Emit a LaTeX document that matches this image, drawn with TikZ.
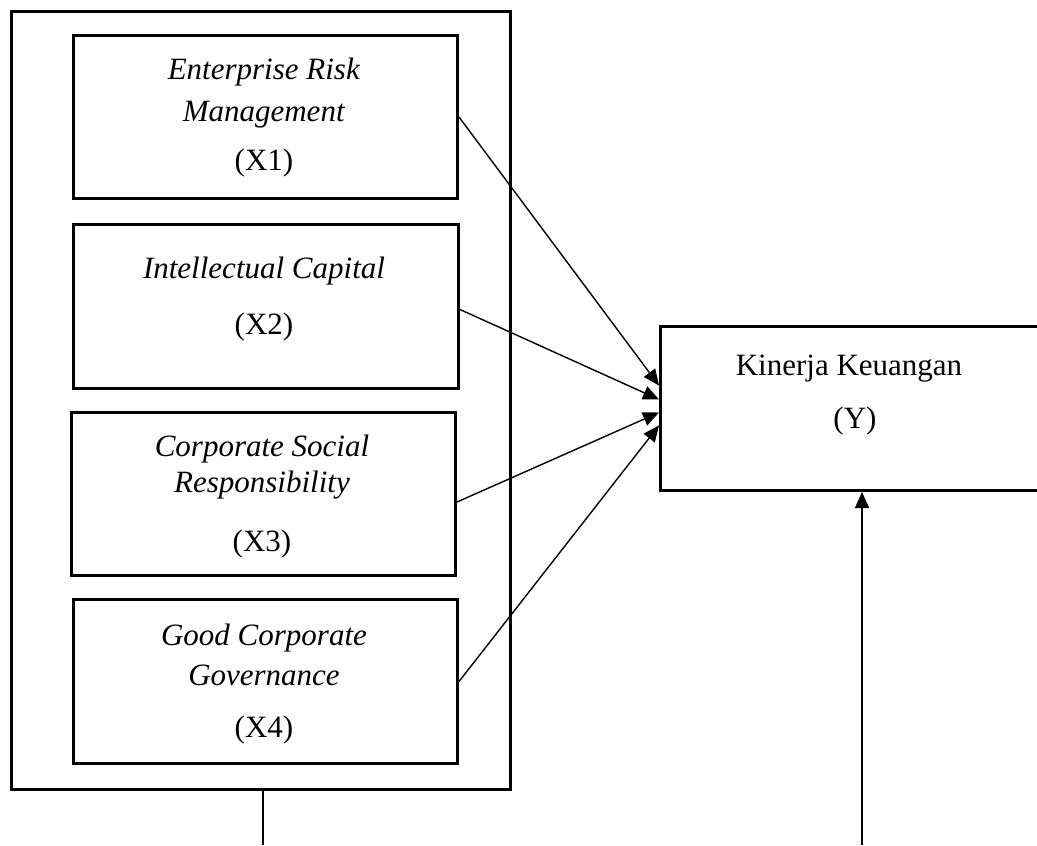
\documentclass[tikz,border=0pt]{standalone}
\usepackage{fontspec}
\setmainfont{Liberation Serif}
\usetikzlibrary{arrows.meta}
\begin{document}
\begin{tikzpicture}[x=0.5pt,y=-0.5pt,
  box/.style={draw,line width=1.5pt,rectangle,inner sep=0pt,anchor=north west},
  txt/.style={inner sep=0pt,anchor=base,font=\fontsize{15.5}{17}\selectfont},
  conn/.style={line width=0.7pt,-{Triangle[length=8pt,width=7pt]}},
  plain/.style={line width=0.7pt}]
\useasboundingbox (0,0) rectangle (1037,845);
\node[box,minimum width=249.5pt,minimum height=389pt] (outer) at (10,10) {};
\node[box,minimum width=192pt,minimum height=81.5pt] (x1) at (72,34) {};
\node[box,minimum width=192.5pt,minimum height=82pt] (x2) at (72,223) {};
\node[box,minimum width=192pt,minimum height=81.5pt] (x3) at (70,411) {};
\node[box,minimum width=192pt,minimum height=82pt] (x4) at (72,598) {};
\node[box,minimum width=193pt,minimum height=82pt] (y) at (659,325) {};
% texts
\node[txt] (t1a) at (264,80) {\textit{Enterprise Risk}};
\node[txt] (t1b) at (264,122) {\textit{Management}};
\node[txt] (t1c) at (264,171) {(X1)};
\node[txt] (t2a) at (264,278) {\textit{Intellectual Capital}};
\node[txt] (t2b) at (264,334) {(X2)};
\node[txt] (t3a) at (262,456) {\textit{Corporate Social}};
\node[txt] (t3b) at (262,492) {\textit{Responsibility}};
\node[txt] (t3c) at (262,551) {(X3)};
\node[txt] (t4a) at (264,645) {\textit{Good Corporate}};
\node[txt] (t4b) at (264,685) {\textit{Governance}};
\node[txt] (t4c) at (264,737) {(X4)};
\node[txt] (tya) at (849,375) {Kinerja Keuangan};
\node[txt] (tyb) at (855,428) {(Y)};
% connectors
\draw[conn] (x1.east) -- ([yshift=11.5pt]y.west);
\draw[conn] ([yshift=-1.5pt]x2.east) -- ([yshift=4.5pt]y.west);
\draw[conn] ([yshift=-4pt]x3.east) -- ([yshift=-2pt]y.west);
\draw[conn] (x4.east) -- ([yshift=-8.5pt]y.west);
\coordinate (b1) at (263,845);
\coordinate (b2) at (862,845);
\draw[plain] (b1 |- outer.south) -- (b1);
\draw[conn] (b2) -- (b2 |- y.south);
\end{tikzpicture}
\end{document}
